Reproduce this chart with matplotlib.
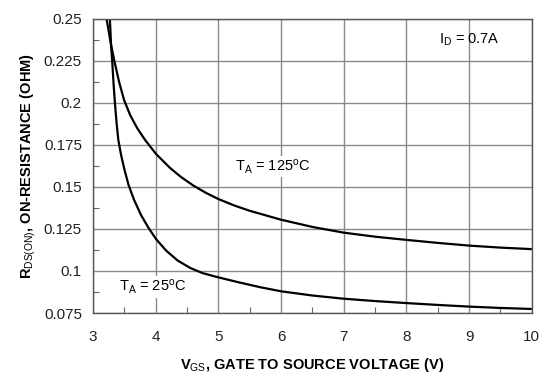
import matplotlib
matplotlib.use("Agg")
import matplotlib.pyplot as plt
from matplotlib.ticker import MultipleLocator

plt.rcParams["font.family"] = ["Liberation Sans", "DejaVu Sans"]
plt.rcParams["mathtext.fontset"] = "custom"
plt.rcParams["mathtext.rm"] = "Liberation Sans"
plt.rcParams["mathtext.it"] = "Liberation Sans"
plt.rcParams["mathtext.bf"] = "Liberation Sans:bold"

# R_DS(on) vs V_GS
vgs_25 = [3.268, 3.287, 3.308, 3.328, 3.351, 3.375, 3.403, 3.447, 3.502, 3.566,
          3.654, 3.765, 3.885, 4.005, 4.164, 4.35, 4.55, 4.75, 5.0, 5.33, 5.66,
          6.0, 6.5, 7.0, 7.5, 8.0, 8.5, 9.0, 9.5, 10.0]
rds_25 = [0.2500, 0.2345, 0.2232, 0.2107, 0.1988, 0.1881, 0.1780, 0.1690, 0.1601,
          0.1512, 0.1423, 0.1333, 0.1256, 0.1190, 0.1122, 0.1062, 0.1018, 0.0987,
          0.0962, 0.0932, 0.0904, 0.0879, 0.0854, 0.0835, 0.0821, 0.0809, 0.0798,
          0.0788, 0.0780, 0.0774]

vgs_125 = [3.215, 3.287, 3.343, 3.415, 3.494, 3.590, 3.702, 3.829, 4.005, 4.228,
           4.4, 4.6, 4.8, 5.0, 5.25, 5.5, 6.0, 6.5, 7.0, 7.5, 8.0, 8.5, 9.0, 9.5,
           10.0]
rds_125 = [0.2500, 0.2345, 0.2244, 0.2125, 0.2018, 0.1929, 0.1851, 0.1780, 0.1696,
           0.1613, 0.1560, 0.1508, 0.1465, 0.1428, 0.1390, 0.1358, 0.1305, 0.1262,
           0.1228, 0.1204, 0.1185, 0.1167, 0.1151, 0.1139, 0.1130]

yticks = [0.075, 0.1, 0.125, 0.15, 0.175, 0.2, 0.225, 0.25]
ytick_labels = ["0.075", "0.1", "0.125", "0.15", "0.175", "0.2", "0.225", "0.25"]
xticks = [3, 4, 5, 6, 7, 8, 9, 10]

fig = plt.figure(figsize=(5.54, 3.85), dpi=100)
ax = fig.add_axes([0.168, 0.187, 0.792, 0.764])

ax.plot(vgs_25, rds_25, color="black", lw=1.6, solid_capstyle="butt",
        solid_joinstyle="round")
ax.plot(vgs_125, rds_125, color="black", lw=1.6, solid_capstyle="butt",
        solid_joinstyle="round")

ax.set_xlim(3, 10)
ax.set_ylim(0.075, 0.25)
ax.set_xticks(xticks)
ax.set_yticks(yticks)
ax.set_yticklabels(ytick_labels)
ax.xaxis.set_minor_locator(MultipleLocator(0.5))
ax.yaxis.set_minor_locator(MultipleLocator(0.0125))
ax.grid(True, which="major", color="#8a8a8a", lw=1.0)
ax.tick_params(which="major", length=0, labelsize=11, colors="#222222")
ax.tick_params(axis="x", which="major", pad=12)
ax.tick_params(axis="y", which="major", pad=8)
ax.tick_params(which="minor", direction="in", length=4, width=0.8, color="#666666")
for s in ax.spines.values():
    s.set_color("#555555")
    s.set_linewidth(1.0)

ax.set_xlabel(r"$\mathbf{V_{\mathrm{GS}}}$, GATE TO SOURCE VOLTAGE (V)",
              fontsize=10.5, fontweight="bold", labelpad=9)
ax.set_ylabel(r"$\mathbf{R_{\mathrm{DS(ON)}}}$, ON-RESISTANCE (OHM)",
              fontsize=10.5, fontweight="bold", labelpad=4)

box = dict(facecolor="white", edgecolor="none", pad=1)
ax.text(9.01, 0.2375, r"I$_\mathrm{D}$ = 0.7A", fontsize=10.5, ha="center", va="center")
ax.text(5.86, 0.162, r"T$_\mathrm{A}$ = 125$^\mathrm{o}$C", fontsize=10.5,
        ha="center", va="center", bbox=box)
ax.text(3.95, 0.0905, r"T$_\mathrm{A}$ = 25$^\mathrm{o}$C", fontsize=10.5,
        ha="center", va="center", bbox=box)

fig.savefig("out.png", dpi=100)
